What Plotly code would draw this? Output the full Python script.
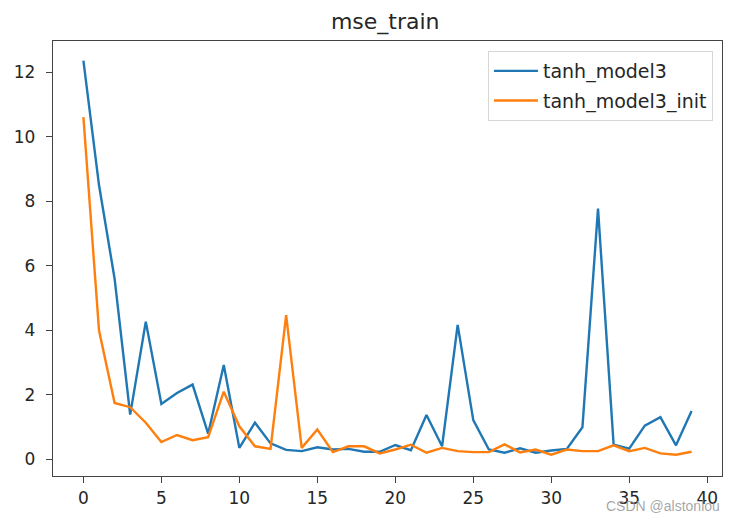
import plotly.graph_objects as go

epochs = list(range(40))
tanh_model3 = [12.35, 8.5, 5.6, 1.39, 4.27, 1.72, 2.06, 2.32, 0.8, 2.93,
               0.36, 1.14, 0.5, 0.3, 0.26, 0.38, 0.31, 0.33, 0.24, 0.24,
               0.45, 0.29, 1.38, 0.41, 4.17, 1.22, 0.31, 0.21, 0.35, 0.21,
               0.28, 0.33, 1.0, 7.77, 0.46, 0.34, 1.05, 1.31, 0.44, 1.5]
tanh_model3_init = [10.6, 4.0, 1.75, 1.62, 1.14, 0.54, 0.76, 0.6, 0.69, 2.1,
                    1.03, 0.41, 0.33, 4.47, 0.36, 0.93, 0.23, 0.41, 0.41, 0.19,
                    0.31, 0.46, 0.21, 0.36, 0.26, 0.23, 0.23, 0.47, 0.22, 0.31,
                    0.15, 0.31, 0.26, 0.26, 0.44, 0.26, 0.36, 0.19, 0.15, 0.24]
x_ticks = [0, 5, 10, 15, 20, 25, 30, 35, 40]
y_ticks = [0, 2, 4, 6, 8, 10, 12]

fig = go.Figure()
fig.add_trace(go.Scatter(x=epochs, y=tanh_model3, mode="lines", name="tanh_model3",
                         legendgroup="a",
                         line=dict(color="#1f77b4", width=2.4)))
fig.add_trace(go.Scatter(x=epochs, y=tanh_model3_init, mode="lines", name="tanh_model3_init",
                         legendgroup="b",
                         line=dict(color="#ff7f0e", width=2.4)))

axis_common = dict(showline=True, linecolor="#444444", linewidth=1.4, mirror=True,
                   ticks="outside", ticklen=6, tickwidth=1.3, tickcolor="#444444",
                   showgrid=False, zeroline=False, automargin=False,
                   tickfont=dict(family="DejaVu Sans", size=17, color="#262626"))

fig.update_layout(
    width=731, height=523,
    margin=dict(l=53, r=9, t=41, b=47),
    paper_bgcolor="white", plot_bgcolor="white",
    font=dict(family="DejaVu Sans", size=17, color="#262626"),
    title=dict(text="mse_train", x=0.527, xanchor="center", y=1 - 21 / 523, yanchor="middle",
               yref="container", font=dict(family="DejaVu Sans", size=22, color="#262626")),
    xaxis=dict(range=[-1.95, 40.95], tickvals=x_ticks, **axis_common),
    yaxis=dict(range=[-0.51, 12.96], tickvals=y_ticks, ticklabelstandoff=7, **axis_common),
    legend=dict(x=0.9865, xanchor="right", y=0.977, yanchor="top",
                bgcolor="rgba(255,255,255,0.8)", bordercolor="#d6d6d6", borderwidth=1,
                font=dict(family="DejaVu Sans", size=19, color="#262626"),
                itemwidth=44, tracegroupgap=2),
    showlegend=True,
)

fig.add_annotation(text="CSDN @alstonlou", xref="paper", yref="paper",
                   x=1.0, xanchor="right", y=-0.07, yanchor="middle", showarrow=False,
                   font=dict(family="Liberation Sans", size=14, color="rgba(150,150,150,0.85)"))

fig.write_html("out.html")
